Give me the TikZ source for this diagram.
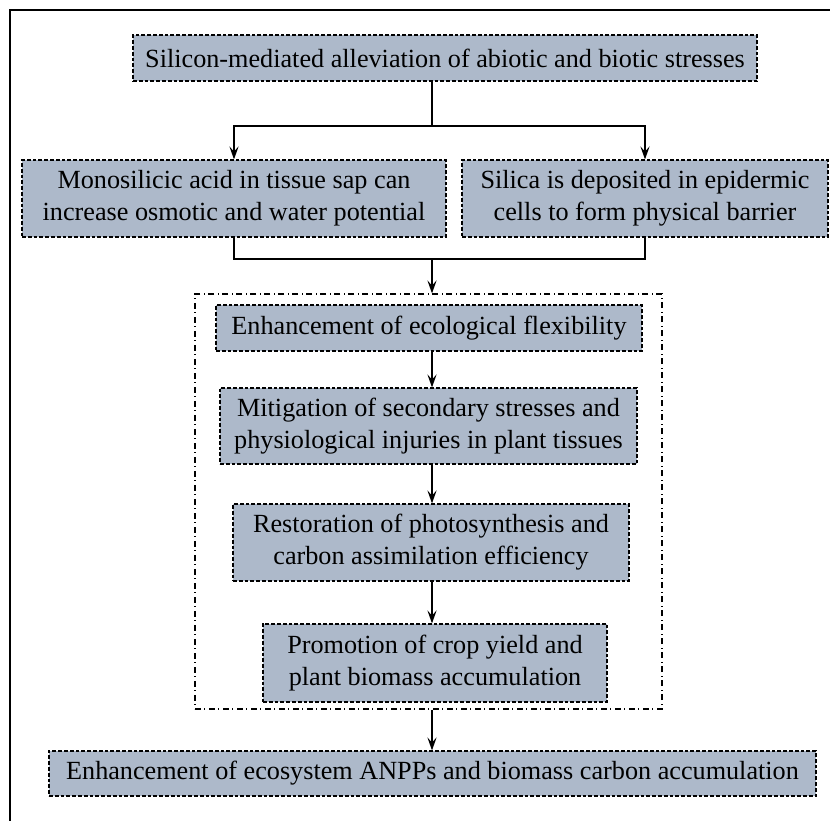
\documentclass[tikz,border=0pt]{standalone}
\usepackage{fontspec}
\setmainfont{Liberation Serif}
\usetikzlibrary{arrows.meta}
\definecolor{boxfill}{RGB}{173,185,202}
\tikzset{
  x=0.5pt, y=-0.5pt,
  stagebox/.style={draw=black, fill=boxfill, line width=0.6pt,
    dash pattern=on 1.9pt off 1pt, inner sep=0pt, align=center,
    font=\fontsize{13.1pt}{16pt}\selectfont},
  groupframe/.style={draw=black, line width=0.6pt,
    dash pattern=on 2.8pt off 1.8pt on 0.6pt off 1.8pt, inner sep=0pt},
  conn/.style={draw=black, line width=0.65pt},
  arr/.style={conn, -{Stealth[length=6.5pt,width=4.6pt,inset=2.6pt]}}
}
\begin{document}
\begin{tikzpicture}
\useasboundingbox (0,0) rectangle (830,820);
\clip (0,0) rectangle (830,820);
% outer frame (only top and left edges visible)
\draw[line width=0.65pt] (10,840) -- (10,10) -- (850,10);

\coordinate (sp) at (432,0);

\node[stagebox, minimum width=312pt, minimum height=23pt] (top) at (445,58)
  {Silicon-mediated alleviation of abiotic and biotic stresses};
\node[stagebox, minimum width=212pt, minimum height=38.5pt] (L) at (234,198.5)
  {Monosilicic acid in tissue sap can\\increase osmotic and water potential};
\node[stagebox, minimum width=183pt, minimum height=38.5pt] (R) at (645,198.5)
  {Silica is deposited in epidermic\\cells to form physical barrier};

\node[groupframe, minimum width=233.5pt, minimum height=207.5pt] (fr) at (428.5,501.5) {};

\node[stagebox, minimum width=213pt, minimum height=23pt] (enh) at (429,328)
  {Enhancement of ecological flexibility};
\node[stagebox, minimum width=208.5pt, minimum height=38pt] (mit) at (428.5,426)
  {Mitigation of secondary stresses and\\physiological injuries in plant tissues};
\node[stagebox, minimum width=198pt, minimum height=38.5pt] (res) at (431,542.5)
  {Restoration of photosynthesis and\\carbon assimilation efficiency};
\node[stagebox, minimum width=172pt, minimum height=39pt] (pro) at (435,663)
  {Promotion of crop yield and\\plant biomass accumulation};
\node[stagebox, minimum width=383.5pt, minimum height=22.5pt] (last) at (432.5,773.5)
  {Enhancement of ecosystem ANPPs and biomass carbon accumulation};

% split
\coordinate (j1) at (432,126);
\draw[conn] (top.south -| j1) -- (j1);
\draw[arr] (j1) -| (L.north);
\draw[arr] (j1) -| (R.north);

% merge
\coordinate (j2) at (432,259);
\draw[conn] (L.south) |- (j2) -| (R.south);
\draw[arr] (j2) -- (fr.north -| j2);

% chain
\draw[arr] (enh.south -| sp) -- (mit.north -| sp);
\draw[arr] (mit.south -| sp) -- (res.north -| sp);
\draw[arr] (res.south -| sp) -- (pro.north -| sp);
\draw[arr] (fr.south -| sp) -- (last.north -| sp);
\end{tikzpicture}
\end{document}
